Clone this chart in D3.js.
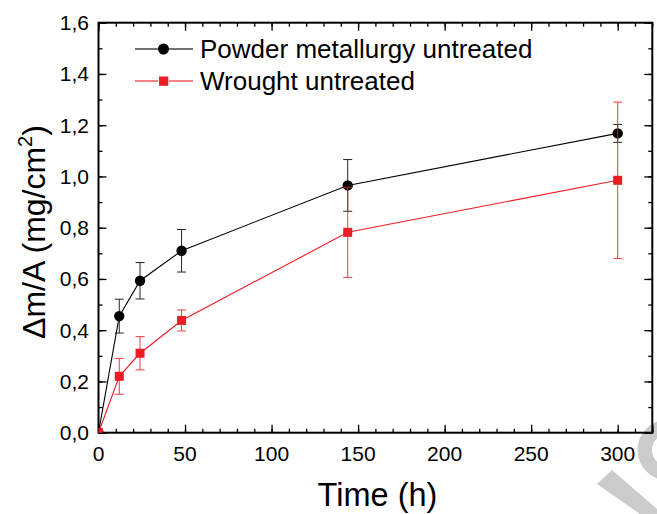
<!DOCTYPE html>
<html>
<head>
<meta charset="utf-8">
<script src="https://cdn.jsdelivr.net/npm/d3@7"></script>
<style>
  body { margin: 0; background: #fff; }
  svg { display: block; font-family: "Liberation Sans", Arial, sans-serif; }
</style>
</head>
<body>
<svg id="chart" width="657" height="514"></svg>
<script>
// ---- data ----
const times = [0, 12, 24, 48, 144, 300];
const powderValues = [0, 0.455, 0.593, 0.71, 0.965, 1.168];
const powderErrors = [0, 0.066, 0.071, 0.083, 0.101, 0.035];
const wroughtValues = [0, 0.22, 0.31, 0.438, 0.782, 0.985];
const wroughtErrors = [0, 0.07, 0.065, 0.041, 0.176, 0.305];
const seriesNames = ["Powder metallurgy untreated", "Wrought untreated"];
const xTicks = [0, 50, 100, 150, 200, 250, 300];
const yTicks = [0, 0.2, 0.4, 0.6, 0.8, 1.0, 1.2, 1.4, 1.6];

const svg = d3.select("#chart");
const plot = { left: 98.5, right: 652.3, top: 22.7, bottom: 432.7 };

const x = d3.scaleLinear().domain([0, 320]).range([plot.left, plot.right]);
const y = d3.scaleLinear().domain([0, 1.6]).range([plot.bottom, plot.top]);

// watermark fragments (page decoration, behind everything)
const wm = svg.append("g").attr("fill", "#cbcbcb");
wm.append("path").attr("d", "M597,484 L612,470 L657,509 L657,514 L640,514 Z");
wm.append("path").attr("transform", "translate(668,450)")
  .attr("d", d3.arc()({ innerRadius: 16, outerRadius: 30.5, startAngle: 0, endAngle: 2 * Math.PI }));

const fmt = v => d3.format(".1f")(v).replace(".", ",");

const minorX = d3.range(0, 321, 10);
const minorY = d3.range(0, 1.61, 0.1).map(v => +v.toFixed(2));

const gAxes = svg.append("g");

// bottom axis
gAxes.append("g").attr("transform", `translate(0,${plot.bottom})`)
  .call(d3.axisBottom(x).tickValues(minorX).tickSize(-4).tickFormat(""));
gAxes.append("g").attr("transform", `translate(0,${plot.bottom})`)
  .call(d3.axisBottom(x).tickValues(xTicks.concat([320])).tickSize(-8).tickFormat(""));
// top axis
gAxes.append("g").attr("transform", `translate(0,${plot.top})`)
  .call(d3.axisTop(x).tickValues(minorX).tickSize(-4).tickFormat(""));
gAxes.append("g").attr("transform", `translate(0,${plot.top})`)
  .call(d3.axisTop(x).tickValues(xTicks).tickSize(-8).tickFormat(""));
// left axis
gAxes.append("g").attr("transform", `translate(${plot.left},0)`)
  .call(d3.axisLeft(y).tickValues(minorY).tickSize(-4).tickFormat(""));
gAxes.append("g").attr("transform", `translate(${plot.left},0)`)
  .call(d3.axisLeft(y).tickValues(yTicks).tickSize(-8).tickFormat(""));
// right axis
gAxes.append("g").attr("transform", `translate(${plot.right},0)`)
  .call(d3.axisRight(y).tickValues(minorY).tickSize(-4).tickFormat(""));
gAxes.append("g").attr("transform", `translate(${plot.right},0)`)
  .call(d3.axisRight(y).tickValues(yTicks).tickSize(-8).tickFormat(""));

gAxes.selectAll(".domain").remove();
gAxes.selectAll(".tick line").attr("stroke", "#000").attr("stroke-width", 1.3);

// frame
svg.append("rect")
  .attr("x", plot.left).attr("y", plot.top)
  .attr("width", plot.right - plot.left).attr("height", plot.bottom - plot.top)
  .attr("fill", "none").attr("stroke", "#000").attr("stroke-width", 2);

// tick labels
svg.append("g").selectAll("text").data(xTicks).join("text")
  .attr("x", d => x(d)).attr("y", 460.5)
  .attr("text-anchor", "middle").attr("font-size", 21).attr("fill", "#000")
  .text(d => d);
svg.append("g").selectAll("text").data(yTicks).join("text")
  .attr("x", 89).attr("y", d => y(d) + 7.5)
  .attr("text-anchor", "end").attr("font-size", 21).attr("fill", "#000")
  .text(d => fmt(d));

// axis titles
svg.append("text")
  .attr("x", 377.5).attr("y", 506)
  .attr("text-anchor", "middle").attr("font-size", 32.5).attr("fill", "#000")
  .text("Time (h)");
const yt = svg.append("text")
  .attr("transform", `translate(45,232) rotate(-90)`)
  .attr("text-anchor", "middle").attr("font-size", 32).attr("fill", "#000");
yt.append("tspan").text("\u0394m/A (mg/cm");
yt.append("tspan").attr("font-size", 20).attr("dy", -13).text("2");
yt.append("tspan").attr("dy", 13).text(")");

// clip
svg.append("clipPath").attr("id", "clip").append("rect")
  .attr("x", plot.left).attr("y", plot.top)
  .attr("width", plot.right - plot.left).attr("height", plot.bottom - plot.top);

const series = [
  { name: seriesNames[0], values: powderValues, errors: powderErrors, color: "#000000", shape: "circle" },
  { name: seriesNames[1], values: wroughtValues, errors: wroughtErrors, color: "#ed1c24", shape: "square" }
];

const gData = svg.append("g").attr("clip-path", "url(#clip)");
const line = d3.line().x(d => x(d.t)).y(d => y(d.v));

series.forEach(s => {
  const pts = times.map((t, i) => ({ t, v: s.values[i], e: s.errors[i] }));
  const g = gData.append("g");
  g.append("path").datum(pts).attr("d", line)
    .attr("fill", "none").attr("stroke", s.color).attr("stroke-width", 1.1);
  const eb = g.append("g").selectAll("g").data(pts.filter(p => p.e > 0)).join("g")
    .attr("stroke", s.color).attr("stroke-width", 1).attr("opacity", 0.85);
  eb.append("line").attr("x1", d => x(d.t)).attr("x2", d => x(d.t))
    .attr("y1", d => y(d.v - d.e)).attr("y2", d => y(d.v + d.e));
  eb.append("line").attr("x1", d => x(d.t) - 4.5).attr("x2", d => x(d.t) + 4.5)
    .attr("y1", d => y(d.v - d.e)).attr("y2", d => y(d.v - d.e));
  eb.append("line").attr("x1", d => x(d.t) - 4.5).attr("x2", d => x(d.t) + 4.5)
    .attr("y1", d => y(d.v + d.e)).attr("y2", d => y(d.v + d.e));
  if (s.shape === "circle") {
    g.append("g").selectAll("circle").data(pts).join("circle")
      .attr("cx", d => x(d.t)).attr("cy", d => y(d.v)).attr("r", 5.2).attr("fill", s.color);
  } else {
    g.append("g").selectAll("rect").data(pts).join("rect")
      .attr("x", d => x(d.t) - 4.5).attr("y", d => y(d.v) - 4.5)
      .attr("width", 9).attr("height", 9).attr("fill", s.color);
  }
});

// legend
const legY = [49, 81];
series.forEach((s, i) => {
  const g = svg.append("g");
  g.append("line").attr("x1", 135).attr("x2", 158).attr("y1", legY[i]).attr("y2", legY[i])
    .attr("stroke", s.color).attr("stroke-width", 1.1);
  g.append("line").attr("x1", 169).attr("x2", 193).attr("y1", legY[i]).attr("y2", legY[i])
    .attr("stroke", s.color).attr("stroke-width", 1.1);
  if (s.shape === "circle") {
    g.append("circle").attr("cx", 163.5).attr("cy", legY[i]).attr("r", 5.5).attr("fill", s.color);
  } else {
    g.append("rect").attr("x", 159).attr("y", legY[i] - 4.5).attr("width", 9.3).attr("height", 9.3).attr("fill", s.color);
  }
  g.append("text").attr("x", 200).attr("y", legY[i] + 9)
    .attr("font-size", 26).attr("fill", "#000").text(s.name);
});
</script>
</body>
</html>
